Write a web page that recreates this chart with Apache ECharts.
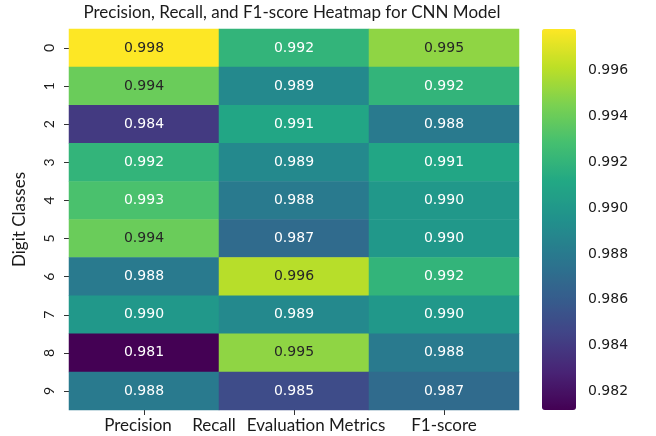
<!DOCTYPE html>
<html>
<head>
<meta charset="utf-8">
<style>
  html, body { margin: 0; padding: 0; background: #ffffff; }
  #chart { width: 656px; height: 436px; }
</style>
<script src="https://cdn.jsdelivr.net/npm/echarts@6/dist/echarts.min.js"></script>
</head>
<body>
<div id="chart"></div>
<script>
// ---- data ----
const classes = ['0', '1', '2', '3', '4', '5', '6', '7', '8', '9'];
const metrics = ['Precision', 'Recall', 'F1-score'];
const precision = [0.998, 0.994, 0.984, 0.992, 0.993, 0.994, 0.988, 0.990, 0.981, 0.988];
const recall    = [0.992, 0.989, 0.991, 0.989, 0.988, 0.987, 0.996, 0.989, 0.995, 0.985];
const f1score   = [0.995, 0.992, 0.988, 0.991, 0.990, 0.990, 0.992, 0.990, 0.988, 0.987];
const colorbarTicks = [0.982, 0.984, 0.986, 0.988, 0.990, 0.992, 0.994, 0.996];
const colorMin = 0.9812;
const colorMax = 0.9978;

// ---- styles ----
const viridis = ['#440154', '#482475', '#414487', '#355f8d', '#2a788e', '#21918c',
                 '#22a884', '#44bf70', '#7ad151', '#bddf26', '#fde725'];
const labelFont = 'Lato';
const numFont = 'DejaVu Sans';
const darkTextFrom = 0.9935;

const columns = [precision, recall, f1score];
const cells = [];
columns.forEach(function (col, xi) {
  col.forEach(function (v, yi) {
    cells.push({
      value: [xi, yi, v],
      label: { color: v >= darkTextFrom ? '#262626' : '#ffffff' }
    });
  });
});

const xLabelPad = { 'Precision': [0, 12, 0, 0], 'Recall': [0, 160, 0, 0], 'F1-score': [0, 0, 0, 0] };
const xRich = {};
metrics.forEach(function (m, i) {
  xRich['m' + i] = { padding: xLabelPad[m], fontFamily: labelFont, fontSize: 17, color: '#1a1a1a' };
});

const chart = echarts.init(document.getElementById('chart'), null, { renderer: 'canvas' });
chart.setOption({
  animation: false,
  backgroundColor: '#ffffff',
  title: {
    text: 'Precision, Recall, and F1-score Heatmap for CNN Model',
    left: 292,
    top: 4,
    textAlign: 'center',
    padding: 0,
    textStyle: { fontFamily: labelFont, fontSize: 17, fontWeight: 'normal', color: '#1a1a1a' }
  },
  grid: [
    { left: 69, top: 29, width: 450, height: 381, outerBoundsMode: 'none', containLabel: false },
    { left: 542, top: 29, width: 34, height: 381, outerBoundsMode: 'none', containLabel: false }
  ],
  xAxis: [
    {
      type: 'category',
      gridIndex: 0,
      data: metrics,
      position: 'bottom',
      axisLine: { show: false },
      axisTick: { show: true, alignWithLabel: true, length: 5, lineStyle: { color: '#333' } },
      axisLabel: {
        interval: 0,
        margin: 7,
        formatter: function (v) { return '{m' + metrics.indexOf(v) + '|' + v + '}'; },
        rich: xRich
      },
      name: 'Evaluation Metrics',
      nameLocation: 'middle',
      nameGap: 7,
      nameMoveOverlap: false,
      nameTextStyle: { fontFamily: labelFont, fontSize: 17, color: '#1a1a1a', padding: [0, 0, 0, 44] },
      splitLine: { show: false }
    },
    { type: 'value', gridIndex: 1, show: false, min: 0, max: 1 }
  ],
  yAxis: [
    {
      type: 'category',
      gridIndex: 0,
      data: classes,
      inverse: true,
      axisLine: { show: false },
      axisTick: { show: true, alignWithLabel: true, length: 5, lineStyle: { color: '#333' } },
      axisLabel: { rotate: 90, margin: 13, fontFamily: labelFont, fontSize: 14, color: '#1a1a1a' },
      name: 'Digit Classes',
      nameLocation: 'middle',
      nameGap: 41,
      nameMoveOverlap: false,
      nameTextStyle: { fontFamily: labelFont, fontSize: 17, color: '#1a1a1a' },
      splitLine: { show: false }
    },
    {
      type: 'value',
      gridIndex: 1,
      position: 'right',
      min: colorMin,
      max: colorMax,
      axisLine: { show: false },
      splitLine: { show: false },
      axisTick: { show: true, length: 5, customValues: colorbarTicks, lineStyle: { color: '#333' } },
      axisLabel: {
        margin: 12,
        customValues: colorbarTicks,
        formatter: function (v) { return v.toFixed(3); },
        fontFamily: numFont, fontSize: 14, color: '#1a1a1a'
      }
    }
  ],
  visualMap: {
    type: 'continuous',
    min: colorMin,
    max: colorMax,
    dimension: 2,
    seriesIndex: 0,
    calculable: false,
    show: true,
    orient: 'vertical',
    left: 542,
    top: 29,
    padding: 0,
    itemWidth: 34,
    itemHeight: 381,
    text: null,
    showLabel: false,
    inRange: { color: viridis }
  },
  series: [
    {
      type: 'heatmap',
      xAxisIndex: 0,
      yAxisIndex: 0,
      data: cells,
      itemStyle: { borderWidth: 0 },
      label: {
        show: true,
        fontFamily: numFont,
        fontSize: 14,
        formatter: function (p) { return p.value[2].toFixed(3); }
      },
      emphasis: { disabled: true }
    }
  ]
});
</script>
</body>
</html>
